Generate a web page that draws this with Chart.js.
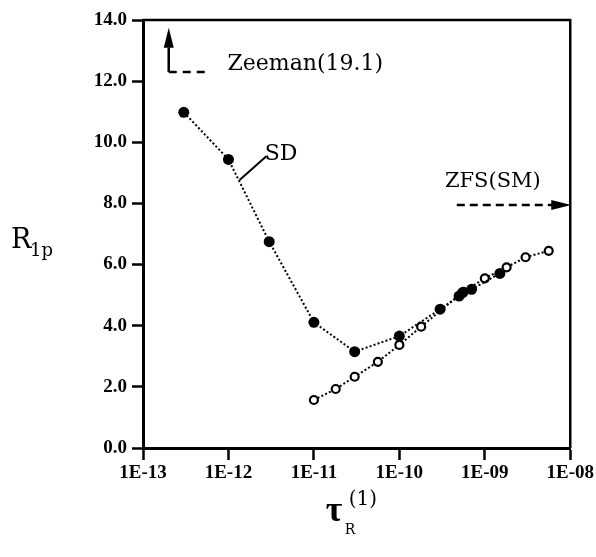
<!DOCTYPE html>
<html>
<head>
<meta charset="utf-8">
<script src="https://cdn.jsdelivr.net/npm/chart.js@4.4.1/dist/chart.umd.min.js"></script>
<style>
  body { margin: 0; background: #fff; }
  #wrap { width: 596px; height: 557px; }
</style>
</head>
<body>
<div id="wrap"><canvas id="chart" width="596" height="557"></canvas></div>
<script>
// values
const sdTau = [3e-13, 1e-12, 3e-12, 1e-11, 3e-11, 1e-10, 3e-10, 5e-10, 5.5e-10, 7e-10, 1.5e-9];
const sdR1p = [10.98, 9.44, 6.75, 4.11, 3.15, 3.66, 4.54, 4.97, 5.08, 5.19, 5.71];
const smTau = [1e-11, 1.8e-11, 3e-11, 5.6e-11, 1e-10, 1.8e-10, 5.6e-10, 1e-9, 1.8e-9, 3e-9, 5.6e-9];
const smR1p = [1.57, 1.93, 2.33, 2.82, 3.37, 3.97, 5.11, 5.55, 5.91, 6.24, 6.45];
const xTicks = [1e-13, 1e-12, 1e-11, 1e-10, 1e-9, 1e-8];
const yTicks = [0, 2, 4, 6, 8, 10, 12, 14];

const toPoints = (xs, ys) => xs.map((x, i) => ({ x: x, y: ys[i] }));

const tickFont = { family: "'Liberation Serif', serif", size: 19, weight: "bold" };
const noteFont = "'DejaVu Serif', serif";

function arrowHead(ctx, x, y, dir, len, half) {
  ctx.beginPath();
  if (dir === "up") {
    ctx.moveTo(x, y);
    ctx.lineTo(x - half, y + len);
    ctx.lineTo(x + half, y + len);
  } else {
    ctx.moveTo(x, y);
    ctx.lineTo(x - len, y - half);
    ctx.lineTo(x - len, y + half);
  }
  ctx.closePath();
  ctx.fill();
}

// frame, arrows, labels and axis titles
const notes = {
  id: "notes",
  afterDraw(chart) {
    const ctx = chart.ctx;
    const a = chart.chartArea;
    const xs = chart.scales.x, ys = chart.scales.y;
    ctx.save();
    ctx.strokeStyle = "#000";
    ctx.fillStyle = "#000";

    // top + right frame
    ctx.lineWidth = 2.5;
    ctx.beginPath();
    ctx.moveTo(a.left, a.top);
    ctx.lineTo(a.right, a.top);
    ctx.lineTo(a.right, a.bottom);
    ctx.stroke();

    // Zeeman arrow
    const zx = xs.getPixelForValue(2e-13);
    const zy = ys.getPixelForValue(12.3);
    ctx.lineWidth = 2.5;
    ctx.beginPath();
    ctx.moveTo(zx, zy);
    ctx.lineTo(zx, ys.getPixelForValue(13.1));
    ctx.stroke();
    arrowHead(ctx, zx, ys.getPixelForValue(13.75), "up", 20, 5);
    ctx.setLineDash([8, 6]);
    ctx.beginPath();
    ctx.moveTo(zx, zy);
    ctx.lineTo(xs.getPixelForValue(6e-13), zy);
    ctx.stroke();
    ctx.setLineDash([]);
    ctx.font = "22px " + noteFont;
    ctx.textBaseline = "alphabetic";
    ctx.textAlign = "left";
    ctx.fillText("Zeeman(19.1)", xs.getPixelForValue(6e-13) + 18, zy - 2);

    // ZFS(SM) arrow
    const fy = ys.getPixelForValue(7.95);
    ctx.setLineDash([8, 5]);
    ctx.beginPath();
    ctx.moveTo(xs.getPixelForValue(4.7e-10), fy);
    ctx.lineTo(a.right - 18, fy);
    ctx.stroke();
    ctx.setLineDash([]);
    arrowHead(ctx, a.right + 1, fy, "right", 20, 5);
    ctx.font = "21px " + noteFont;
    ctx.textAlign = "center";
    ctx.fillText("ZFS(SM)", xs.getPixelForValue(1e-9) + 8, fy - 18);

    // SD leader
    ctx.lineWidth = 2;
    ctx.beginPath();
    ctx.moveTo(xs.getPixelForValue(1.35e-12), ys.getPixelForValue(8.77));
    ctx.lineTo(xs.getPixelForValue(2.8e-12), ys.getPixelForValue(9.55));
    ctx.stroke();
    ctx.font = "22px " + noteFont;
    ctx.textAlign = "left";
    ctx.fillText("SD", xs.getPixelForValue(2.8e-12) - 2, ys.getPixelForValue(9.55) + 4);

    // y title R1p
    ctx.font = "27px " + noteFont;
    ctx.fillText("R", 11, 248);
    ctx.font = "18px " + noteFont;
    ctx.fillText("1p", 30, 256);

    // x title tau_R^(1)
    const cx = (a.left + a.right) / 2;
    ctx.font = "bold 36px 'Liberation Serif', serif";
    ctx.fillText("\u03C4", cx - 31, 521);
    ctx.font = "20px " + noteFont;
    ctx.fillText("(1)", cx - 8, 505);
    ctx.font = "14px " + noteFont;
    ctx.fillText("R", cx - 12, 534);
    ctx.restore();
  }
};

new Chart(document.getElementById("chart"), {
  type: "scatter",
  data: {
    datasets: [
      {
        label: "SD",
        data: toPoints(sdTau, sdR1p),
        showLine: true,
        borderColor: "#000",
        borderWidth: 2,
        borderDash: [2, 2.2],
        pointRadius: 5.5,
        pointBackgroundColor: "#000",
        pointBorderColor: "#000",
        pointBorderWidth: 0,
        order: 1
      },
      {
        label: "SM",
        data: toPoints(smTau, smR1p),
        showLine: true,
        borderColor: "#000",
        borderWidth: 2,
        borderDash: [2, 2.2],
        pointRadius: 4,
        pointBackgroundColor: "#fff",
        pointBorderColor: "#000",
        pointBorderWidth: 2.2,
        order: 2
      }
    ]
  },
  options: {
    responsive: false,
    animation: false,
    layout: { padding: { left: 0, right: 25, top: 20, bottom: 0 } },
    plugins: { legend: { display: false }, tooltip: { enabled: false } },
    scales: {
      x: {
        type: "logarithmic",
        min: 1e-13,
        max: 1e-8,
        afterBuildTicks: (s) => { s.ticks = xTicks.map(v => ({ value: v })); },
        afterFit: (s) => { s.height = 109; },
        border: { display: true, color: "#000", width: 3 },
        grid: { drawOnChartArea: false, drawTicks: true, tickLength: 12, tickWidth: 2.5, tickColor: "#000" },
        ticks: {
          autoSkip: false,
          maxRotation: 0,
          color: "#000",
          font: tickFont,
          padding: 2,
          callback: (v) => "1E-" + String(-Math.round(Math.log10(v))).padStart(2, "0")
        }
      },
      y: {
        min: 0,
        max: 14,
        afterBuildTicks: (s) => { s.ticks = yTicks.map(v => ({ value: v })); },
        afterFit: (s) => { s.width = 143; },
        border: { display: true, color: "#000", width: 3 },
        grid: { drawOnChartArea: false, drawTicks: true, tickLength: 11, tickWidth: 2.5, tickColor: "#000" },
        ticks: {
          color: "#000",
          font: tickFont,
          padding: 5,
          callback: (v) => v.toFixed(1)
        }
      }
    }
  },
  plugins: [notes]
});
</script>
</body>
</html>
